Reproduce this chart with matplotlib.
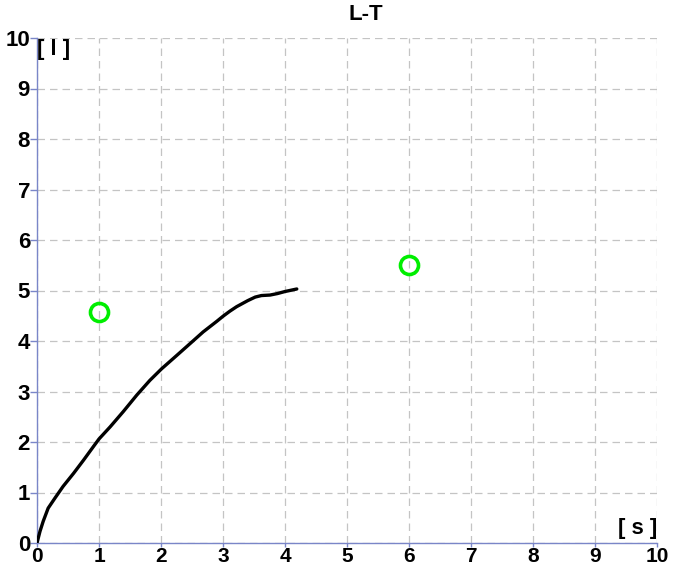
import matplotlib

matplotlib.use('Agg')
import matplotlib.pyplot as plt

plt.rcParams['font.family'] = ['Liberation Sans', 'DejaVu Sans']

# 曲线 L-T
t = [0, 0.048, 0.10, 0.18, 0.29, 0.42, 0.59, 0.75, 0.91, 1.0, 1.18, 1.39, 1.61, 1.82,
     2.01, 2.25, 2.47, 2.68, 2.90, 3.0, 3.11, 3.22, 3.40, 3.52, 3.62, 3.76, 3.88, 4.0, 4.19]
L = [0, 0.23, 0.43, 0.69, 0.89, 1.12, 1.38, 1.64, 1.91, 2.06, 2.30, 2.60, 2.93, 3.22,
     3.45, 3.71, 3.95, 4.18, 4.39, 4.49, 4.59, 4.68, 4.80, 4.87, 4.90, 4.91, 4.94, 4.98, 5.03]

# 测量点
pt_t = [1, 6]
pt_L = [4.57, 5.5]

ticks = list(range(0, 11))

fig = plt.figure(figsize=(6.74, 5.71), dpi=100)
ax = fig.add_axes([0.0549, 28 / 571, 0.9199, 505 / 571])

ax.plot(t, L, color='black', linewidth=2.4, solid_capstyle='round',
        solid_joinstyle='round', zorder=3)
ax.plot(pt_t, pt_L, 'o', markersize=13, markerfacecolor='none',
        markeredgecolor='#00ee00', markeredgewidth=2.6, zorder=4)

ax.set_xlim(0, 10)
ax.set_ylim(0, 10)
ax.set_xticks(ticks)
ax.set_yticks(ticks)
ax.grid(True, color='#c4c4c4', linestyle=(0, (6, 4)), linewidth=0.9)

for s in ['top', 'right']:
    ax.spines[s].set_visible(False)
for s in ['left', 'bottom']:
    ax.spines[s].set_color('#7a86c8')
    ax.spines[s].set_linewidth(1.0)

ax.tick_params(axis='both', colors='#7a86c8', width=1, direction='out',
               labelcolor='black')
ax.tick_params(axis='y', pad=0, length=5, labelsize=16)
ax.tick_params(axis='x', pad=0, length=3, labelsize=15)
for lab in ax.get_xticklabels() + ax.get_yticklabels():
    lab.set_fontweight('bold')

fig.text(366 / 674, 1 - 14 / 571, 'L-T', ha='center', va='center',
         fontsize=16, fontweight='bold')
ax.text(0.0, 9.98, '[ l ]', ha='left', va='top', fontsize=16, fontweight='bold')
ax.text(10.0, 0.08, '[ s ]', ha='right', va='bottom', fontsize=16, fontweight='bold')

plt.savefig('out.png', dpi=100)
plt.close()
